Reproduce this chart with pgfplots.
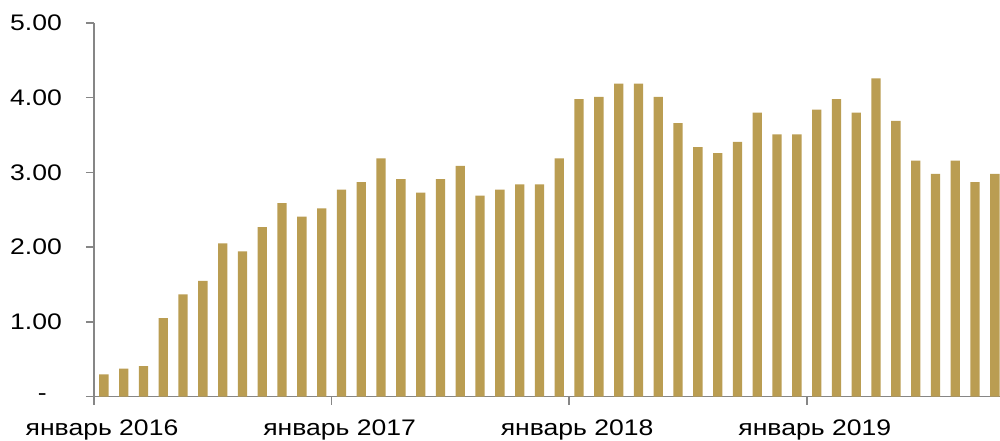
\documentclass[border=0pt]{standalone}
\usepackage{fontspec}
\setmainfont{Liberation Sans}[FakeStretch=1.18]
\usepackage{pgfplots}
\pgfplotsset{compat=1.18}
\definecolor{barcol}{RGB}{186,157,82}
\definecolor{axgray}{RGB}{134,134,134}
\begin{document}
\begin{tikzpicture}
\begin{axis}[name=ax, scale only axis, width=906pt, height=373.7pt,
  xmin=-0.5, xmax=45.26, ymin=0, ymax=5,
  axis x line*=bottom, axis y line*=left,
  axis line style={axgray, line width=1.5pt},
  ytick={0,1,2,3,4,5},
  yticklabels={-\kern15pt,1.00,2.00,3.00,4.00,5.00},
  xtick={-0.5,11.5,23.5,35.5},
  xticklabels={январь 2016,январь 2017,январь 2018,январь 2019},
  tick align=outside, major tick length=8pt,
  tick style={axgray, line width=1.5pt},
  ticklabel style={font=\fontsize{22.5}{26}\selectfont, text=black, inner sep=0pt},
  yticklabel style={anchor=east, xshift=-24pt},
  xticklabel style={anchor=north, xshift=8pt, yshift=-15pt},
  ybar, bar width=9.3pt,
  clip=false,
]
\addplot[fill=barcol, draw=none] coordinates {
(0,0.30) (1,0.375) (2,0.41) (3,1.05) (4,1.37) (5,1.55) (6,2.05) (7,1.945)
(8,2.27) (9,2.59) (10,2.41) (11,2.52) (12,2.77) (13,2.87) (14,3.19) (15,2.91)
(16,2.73) (17,2.91) (18,3.09) (19,2.69) (20,2.77) (21,2.84) (22,2.84) (23,3.19)
(24,3.98) (25,4.01) (26,4.19) (27,4.19) (28,4.01) (29,3.66) (30,3.34) (31,3.26)
(32,3.41) (33,3.80) (34,3.51) (35,3.51) (36,3.84) (37,3.98) (38,3.80) (39,4.26)
(40,3.69) (41,3.16) (42,2.98) (43,3.16) (44,2.87) (45,2.98)
};
\end{axis}
\pgfresetboundingbox
\path ([xshift=-94pt,yshift=-44.3pt]ax.south west) rectangle ([yshift=23pt]ax.north east);
\end{tikzpicture}
\end{document}
